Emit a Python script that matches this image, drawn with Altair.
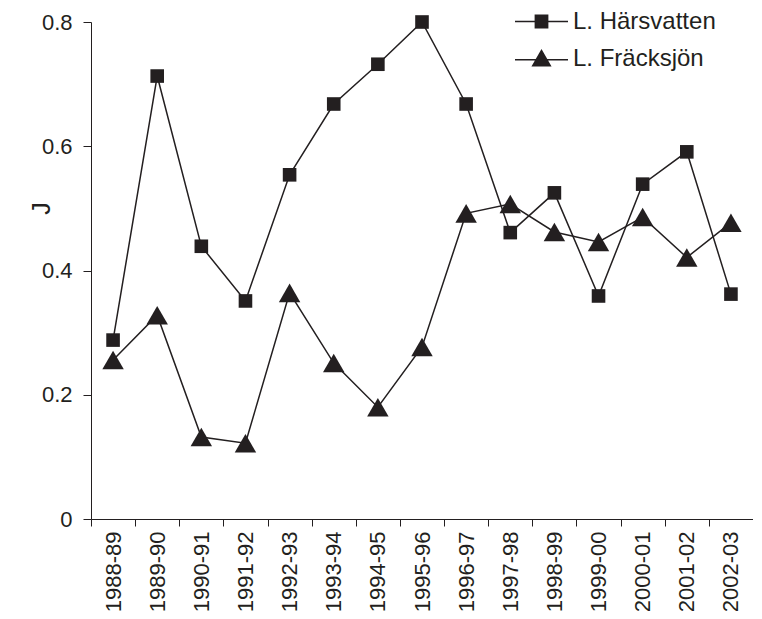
import altair as alt
import pandas as pd

years = ["1988-89", "1989-90", "1990-91", "1991-92", "1992-93", "1993-94", "1994-95",
         "1995-96", "1996-97", "1997-98", "1998-99", "1999-00", "2000-01", "2001-02", "2002-03"]
harsvatten = [0.288, 0.713, 0.439, 0.351, 0.554, 0.668, 0.732, 0.800, 0.668, 0.461,
              0.525, 0.359, 0.539, 0.591, 0.362]
fracksjon = [0.256, 0.328, 0.132, 0.122, 0.364, 0.251, 0.180, 0.277, 0.492, 0.507,
             0.462, 0.446, 0.486, 0.421, 0.477]
series = ["L. Härsvatten", "L. Fräcksjön"]

rows = []
for i, y in enumerate(years):
    rows.append({"year": y, "lake": series[0], "J": harsvatten[i]})
    rows.append({"year": y, "lake": series[1], "J": fracksjon[i]})
df = pd.DataFrame(rows)

INK = "#231f20"
FONT = "Liberation Sans"

x_enc = alt.X("year:N", sort=years,
              scale=alt.Scale(type="band", paddingInner=0, paddingOuter=0),
              axis=alt.Axis(title=None, labelAngle=270, labelFontSize=22, labelFont=FONT,
                            labelColor=INK, tickBand="extent", tickSize=7, tickColor=INK,
                            domainColor=INK, labelPadding=5, labelAlign="right",
                            labelBaseline="middle", grid=False))
y_enc = alt.Y("J:Q", scale=alt.Scale(domain=[0, 0.8], nice=False),
              axis=alt.Axis(title="J", titleFontSize=25, titleFont=FONT, titleFontWeight="normal",
                            titleColor=INK, values=[0, 0.2, 0.4, 0.6, 0.8], format="~g",
                            labelFontSize=22, labelFont=FONT, labelColor=INK, tickSize=8,
                            tickColor=INK, domainColor=INK, labelPadding=11, grid=False,
                            titleX=-37, titleY=186, titleAngle=270))

base = alt.Chart(df)

lines = base.mark_line(color=INK, strokeWidth=1.5).encode(
    x=x_enc, y=y_enc, detail="lake:N")

points = base.mark_point(filled=True, color=INK, opacity=1).encode(
    x=x_enc, y=y_enc,
    shape=alt.Shape("lake:N", scale=alt.Scale(domain=series, range=["square", "triangle-up"]),
                    legend=None),
    size=alt.Size("lake:N", scale=alt.Scale(domain=series, range=[185, 460]), legend=None),
)

# legend glyphs: a thin filled bar (the line) plus the filled marker
sq_path = "M-1,-0.028H1V0.028H-1Z M-0.26,-0.26H0.26V0.26H-0.26Z"
tri_path = "M-1,0.02H1V0.076H-1Z M-0.38,0.3L0,-0.36L0.38,0.3Z"

legend_layer = base.mark_point(filled=True, color=INK, opacity=1).encode(
    x=x_enc, y=y_enc,
    shape=alt.Shape("lake:N", scale=alt.Scale(domain=series, range=[sq_path, tri_path]),
                    legend=alt.Legend(orient="none", legendX=424, legendY=-19, title=None,
                                      labelFontSize=24, labelFont=FONT, labelColor=INK,
                                      symbolSize=2809, symbolStrokeWidth=0,
                                      symbolFillColor=INK, symbolStrokeColor=INK,
                                      symbolOpacity=1, clipHeight=37, rowPadding=0,
                                      padding=0, labelOffset=5, symbolOffset=0)),
).transform_filter("false")

chart = alt.layer(lines, points, legend_layer).resolve_scale(
    shape="independent", size="independent"
).properties(
    width=662, height=497,
    autosize=alt.AutoSizeParams(type="none"),
    padding={"left": 83, "top": 14, "right": 0, "bottom": 92},
    background="white",
).configure_view(stroke=None)

chart.save("out.html", embed_options={"renderer": "svg", "actions": False})
